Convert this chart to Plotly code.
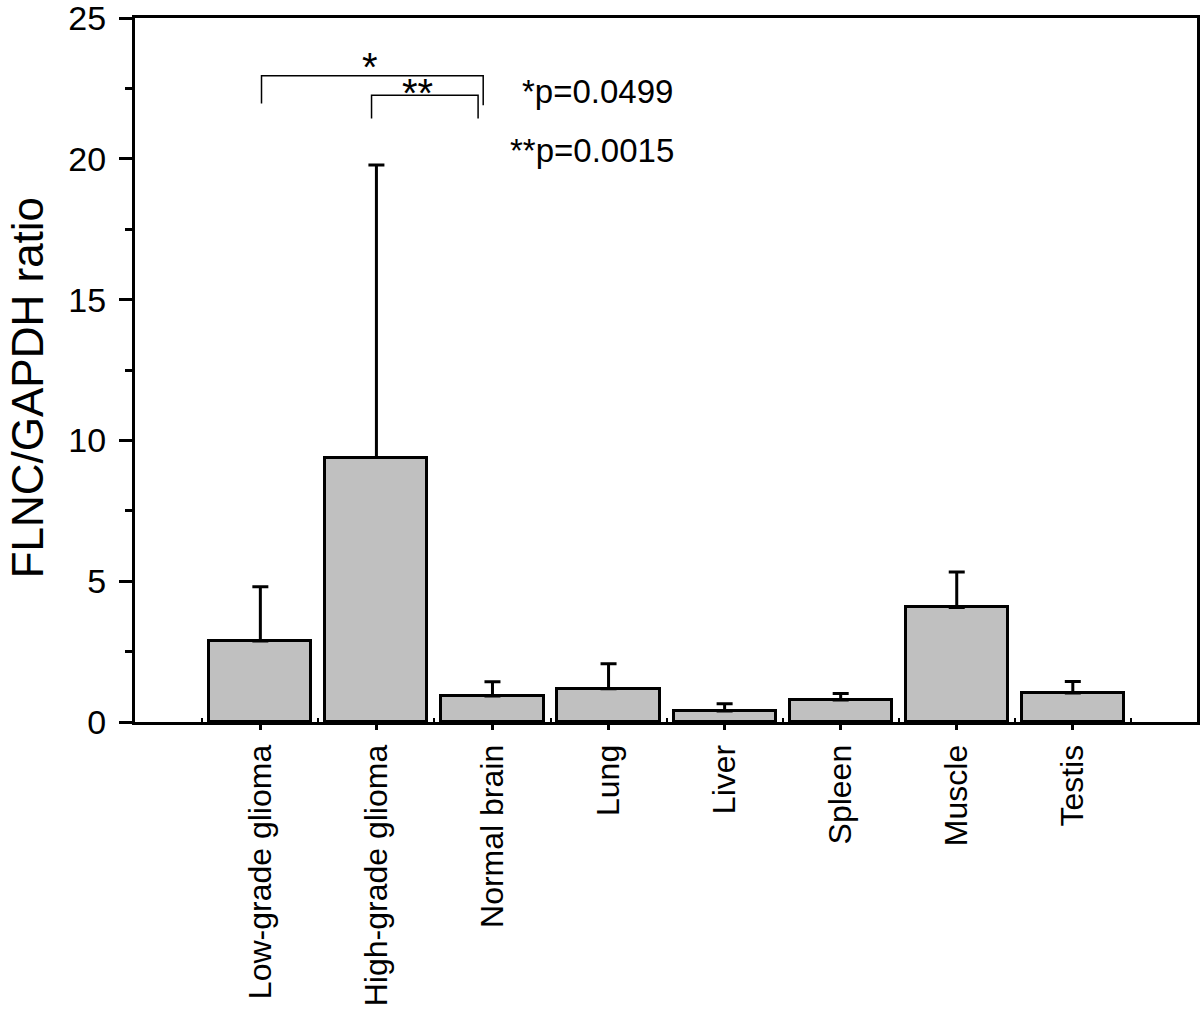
import plotly.graph_objects as go

categories = ["Low-grade glioma", "High-grade glioma", "Normal brain", "Lung",
              "Liver", "Spleen", "Muscle", "Testis"]
means = [2.88, 9.39, 0.92, 1.18, 0.39, 0.78, 4.07, 1.03]
upper = [4.80, 19.78, 1.43, 2.07, 0.65, 1.01, 5.33, 1.44]
errors = [u - m for u, m in zip(upper, means)]

y_ticks = [0, 5, 10, 15, 20, 25]
y_title = "FLNC/GAPDH ratio"

FONT = "Liberation Sans, Arial, sans-serif"
xpos = list(range(len(categories)))

fig = go.Figure()
fig.add_trace(go.Bar(
    x=xpos, y=means, width=0.88,
    marker=dict(color="#c0c0c0", line=dict(color="black", width=3)),
    error_y=dict(type="data", symmetric=False, array=errors,
                 arrayminus=[0] * len(errors), color="black",
                 thickness=3, width=8),
    showlegend=False,
))

# significance brackets
brackets = [
    # (x_left, x_right, y_top, y_left_bottom, y_right_bottom)
    (0.01, 1.92, 22.95, 21.96, 21.90),
    (0.958, 1.876, 22.26, 21.43, 21.43),
]
for xl, xr, yt, ylb, yrb in brackets:
    fig.add_shape(type="path",
                  path=f"M {xl},{ylb} L {xl},{yt} L {xr},{yt} L {xr},{yrb}",
                  line=dict(color="black", width=1.5), xref="x", yref="y")

annots = [
    ("*", 0.943, 23.25, 40),
    ("**", 1.357, 22.35, 40),
    ("*p=0.0499", 2.907, 22.39, 33),
    ("**p=0.0015", 2.855, 20.30, 33),
]
for txt, x, y, sz in annots:
    fig.add_annotation(x=x, y=y, text=txt, showarrow=False, xref="x", yref="y",
                       font=dict(family=FONT, size=sz, color="black"))

# y-axis title
fig.add_annotation(x=-0.101, y=0.475, xref="paper", yref="paper", text=y_title,
                   textangle=-90, showarrow=False, xanchor="center", yanchor="middle",
                   font=dict(family=FONT, size=44, color="black"))

fig.update_layout(
    width=1200, height=1015,
    margin=dict(l=135, r=3, t=18, b=293),
    plot_bgcolor="white", paper_bgcolor="white",
    font=dict(family=FONT, color="black"),
    bargap=0,
)
fig.update_xaxes(
    range=[-1.08, 8.07],
    tickmode="array", tickvals=xpos, ticktext=categories, tickangle=-90,
    tickfont=dict(size=32, family=FONT),
    ticks="outside", ticklen=5, tickwidth=3, tickcolor="black",
    showline=True, linecolor="black", linewidth=3, mirror=True,
    showgrid=False, zeroline=False,
    minor=dict(tickvals=[i + 0.5 for i in range(-1, 8)], ticks="inside",
               ticklen=4, tickwidth=2, tickcolor="black"),
    ticklabelstandoff=2,
    ticklabeloverflow="allow",
    automargin=False,
)
fig.update_yaxes(
    range=[0, 25],
    tickmode="array", tickvals=y_ticks, ticktext=[str(v) for v in y_ticks],
    tickfont=dict(size=34, family=FONT),
    ticks="outside", ticklen=13, tickwidth=3, tickcolor="black",
    minor=dict(tickvals=[2.5, 7.5, 12.5, 17.5, 22.5], ticks="outside",
               ticklen=7, tickwidth=3, tickcolor="black"),
    showline=True, linecolor="black", linewidth=3, mirror=True,
    showgrid=False, zeroline=False,
    ticklabelstandoff=6,
    ticklabeloverflow="allow",
    automargin=False,
)

fig.write_html("out.html", config={"displayModeBar": False},
               post_script="document.body.style.margin='0';document.body.style.overflow='hidden';")
